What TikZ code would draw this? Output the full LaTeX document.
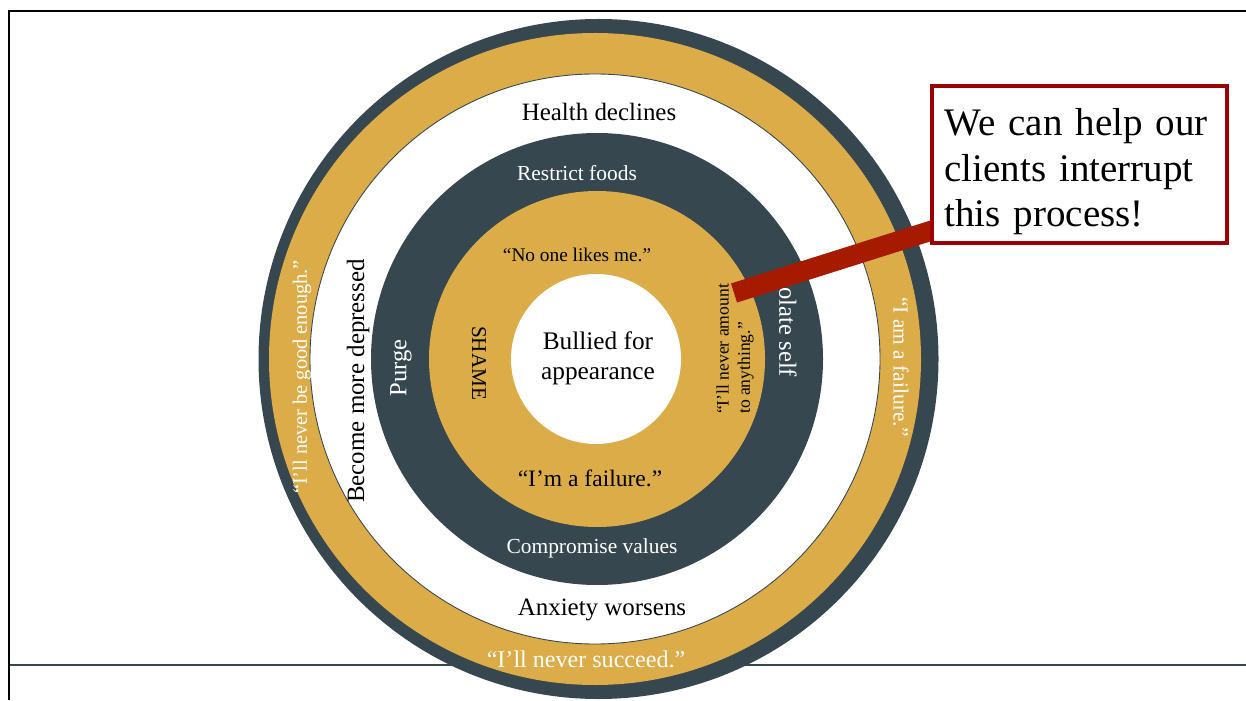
\documentclass[tikz,border=0pt]{standalone}
\usepackage{fontspec}
\setmainfont{Liberation Serif}
\definecolor{slate}{RGB}{55,71,79}
\definecolor{mustard}{RGB}{219,172,72}
\definecolor{barred}{RGB}{166,27,0}
\definecolor{boxred}{RGB}{155,0,0}
\pgfdeclarelayer{front}
\pgfsetlayers{main,front}

\begin{document}
\begin{tikzpicture}[x=0.02cm,y=0.02cm] % 1 unit = 1px

\tikzstyle{lbl} = [inner sep=0, align=center];
\tikzstyle{onlight} = [lbl, text=black];
\tikzstyle{ondark} = [lbl, text=white];
\tikzstyle{callbar} = [draw=barred, line width=0.4cm];
\tikzstyle{callbox} = [draw=boxred, line width=2.5pt, fill=white, minimum width=5.9cm, minimum height=3.14cm, text width=5.4cm, text height=24pt, inner xsep=0.25cm, align=left];

\useasboundingbox (0,0) rectangle (1246,700);

% slide frame
\draw[slate, line width=1.2pt] (9,35) -- (1246,35);
\draw[line width=1.4pt] (9,0) -- (9,689) -- (1246,689);

% rings, outside in
\fill[slate] (598.5,341) circle (340);
\fill[mustard] (595,341) circle (326);
\filldraw[fill=white, draw=slate, line width=0.5pt] (595,341) circle (285);
\fill[slate] (597,341) circle (226);
\fill[mustard] (597,341) circle (168);
\fill[white] (596,341) circle (85);

\node[onlight, font=\fontsize{14.4}{17}\selectfont] (bullied) at (598,342) {Bullied for\\appearance};

\node[onlight, font=\fontsize{11}{13}\selectfont] (noone) at (577,445) {“No one likes me.”};
\node[onlight, font=\fontsize{13.4}{16}\selectfont] (failure) at (590,222) {“I’m a failure.”};
\node[onlight, rotate=-90, font=\fontsize{12}{14}\selectfont] (shame) at (479,337) {SHAME};
\node[onlight, rotate=90, align=left, font=\fontsize{10}{12}\selectfont] (amount) at (735,351) {“I’ll never amount\\to anything.”};

\node[ondark, font=\fontsize{12.2}{14}\selectfont] (restrict) at (577,527) {Restrict foods};
\node[ondark, font=\fontsize{12.2}{14}\selectfont] (compromise) at (592,152) {Compromise values};
\node[ondark, rotate=90, font=\fontsize{14}{17}\selectfont] (purge) at (401,332) {Purge};
\node[ondark, rotate=-90, font=\fontsize{14}{17}\selectfont] (isolate) at (788,376.5) {Isolate self};

\node[onlight, font=\fontsize{14.2}{17}\selectfont] (health) at (599,588) {Health declines};
\node[onlight, font=\fontsize{14.2}{17}\selectfont] (anxiety) at (602,90) {Anxiety worsens};
\node[onlight, rotate=90, font=\fontsize{14.2}{17}\selectfont] (depressed) at (358,319) {Become more depressed};

\node[ondark, rotate=90, font=\fontsize{11.6}{14}\selectfont] (goodenough) at (302,323) {“I’ll never be good enough.”};
\node[ondark, rotate=-90, font=\fontsize{12.2}{14}\selectfont] (iamfailure) at (901,333) {“I am a failure.”};
\node[ondark, font=\fontsize{13.7}{16}\selectfont] (succeed) at (586,41) {“I’ll never succeed.”};

\begin{pgfonlayer}{front}
\node[callbox, font=\fontsize{22.2}{25.9}\selectfont] (callout) at (1079.5,535.5) {We can help our\\clients interrupt\\this process!};
\end{pgfonlayer}

\coordinate (tip) at (734,407);
\draw[callbar, shorten >=-8pt] (tip) -- (callout.204);

\end{tikzpicture}
\end{document}
